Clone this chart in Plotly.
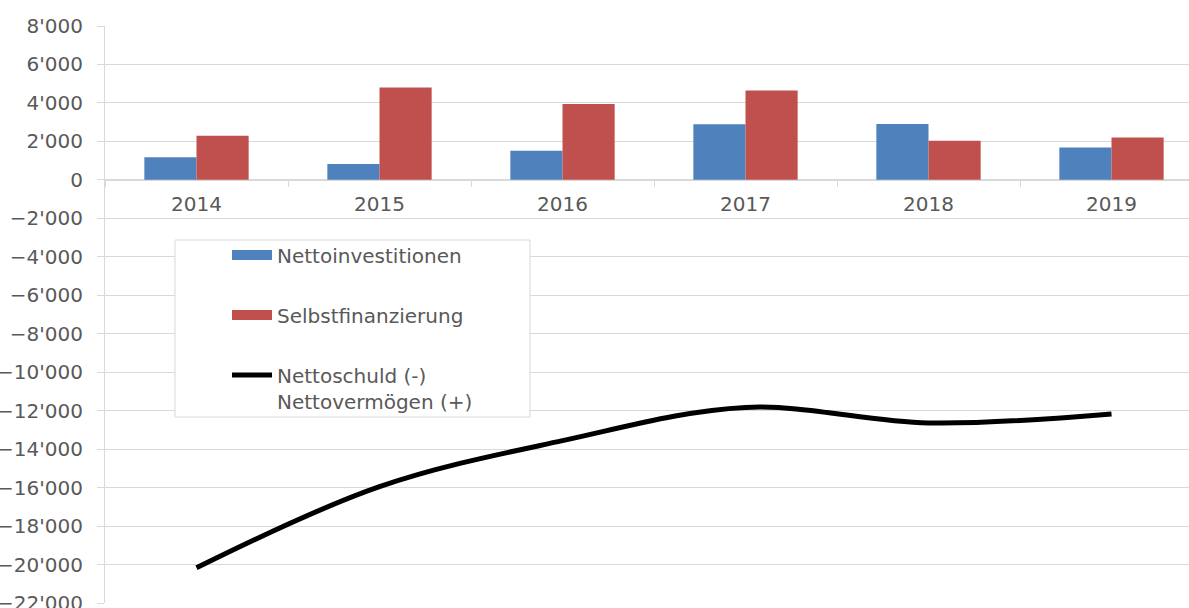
import plotly.graph_objects as go

years = ["2014", "2015", "2016", "2017", "2018", "2019"]
nettoinvestitionen = [1180, 820, 1520, 2890, 2910, 1680]
selbstfinanzierung = [2300, 4800, 3950, 4640, 2040, 2200]
nettoschuld = [-20170, -15950, -13560, -11830, -12640, -12170]

BLUE = "#4F81BD"
RED = "#C0504D"
GRID = "#D9D9D9"
TXT = "#595959"
FONT = "DejaVu Sans"
FS = 20

W, H = 1189, 608
ML, MR, MT, MB = 105, 0, 26, 5
PW, PH = W - ML - MR, H - MT - MB
YMIN, YMAX = -22000, 8000


def px_x(px):
    return (px - ML) / PW


def px_y(py):
    return (H - MB - py) / PH


fig = go.Figure()
fig.add_trace(go.Bar(x=years, y=nettoinvestitionen, marker_color=BLUE,
                     marker_line_width=0, showlegend=False, name="Nettoinvestitionen"))
fig.add_trace(go.Bar(x=years, y=selbstfinanzierung, marker_color=RED,
                     marker_line_width=0, showlegend=False, name="Selbstfinanzierung"))
fig.add_trace(go.Scatter(x=years, y=nettoschuld, mode="lines",
                         line=dict(color="black", width=5, shape="spline", smoothing=1),
                         name="Nettoschuld (-)<br>Nettovermögen (+)", legend="legend3"))
# legend swatches for bars (wide rectangles like the original)
fig.add_trace(go.Scatter(x=[None], y=[None], mode="lines", line=dict(color=BLUE, width=10),
                         name="Nettoinvestitionen", legend="legend"))
fig.add_trace(go.Scatter(x=[None], y=[None], mode="lines", line=dict(color=RED, width=10),
                         name="Selbstfinanzierung", legend="legend2"))

leg_common = dict(font=dict(family=FONT, size=FS, color=TXT), bgcolor="rgba(0,0,0,0)",
                  borderwidth=0, xanchor="left", valign="top", itemwidth=40)

fig.update_layout(
    width=W, height=H,
    margin=dict(l=ML, r=MR, t=MT, b=MB, pad=0, autoexpand=False),
    plot_bgcolor="white", paper_bgcolor="white",
    font=dict(family=FONT, size=FS, color=TXT),
    separators=".'",
    barmode="group", bargap=0.43, bargroupgap=0,
    showlegend=True,
    hovermode=False,
    legend=dict(x=px_x(227), y=px_y(255), yanchor="middle", **leg_common),
    legend2=dict(x=px_x(227), y=px_y(315), yanchor="middle", **leg_common),
    legend3=dict(x=px_x(227), y=px_y(388), yanchor="middle", **leg_common),
    xaxis=dict(type="category", range=[-0.5, 5.5 - 14 / 183], anchor="free",
               position=(0 - YMIN) / (YMAX - YMIN), showgrid=False, showline=True,
               linecolor=GRID, linewidth=1, ticks="outside", tickson="boundaries",
               ticklen=6, tickcolor=GRID, tickfont=dict(family=FONT, size=FS, color=TXT),
               ticklabelstandoff=6, automargin=False),
    yaxis=dict(range=[YMIN, YMAX], dtick=2000, tickformat=",d", showgrid=True,
               gridcolor=GRID, gridwidth=1, zeroline=False, showline=True,
               linecolor=GRID, linewidth=1, ticks="outside", ticklen=7, tickcolor=GRID,
               tickfont=dict(family=FONT, size=FS, color=TXT), ticklabelstandoff=10,
               ticklabeloverflow="allow", automargin=False),
    shapes=[dict(type="rect", xref="paper", yref="paper", x0=px_x(175), x1=px_x(530),
                 y0=px_y(240), y1=px_y(417), fillcolor="white",
                 line=dict(color=GRID, width=1), layer="above")],
)

fig.write_html("out.html", config={"displayModeBar": False},
               post_script="document.body.style.margin='0';document.body.style.overflow='hidden';")
